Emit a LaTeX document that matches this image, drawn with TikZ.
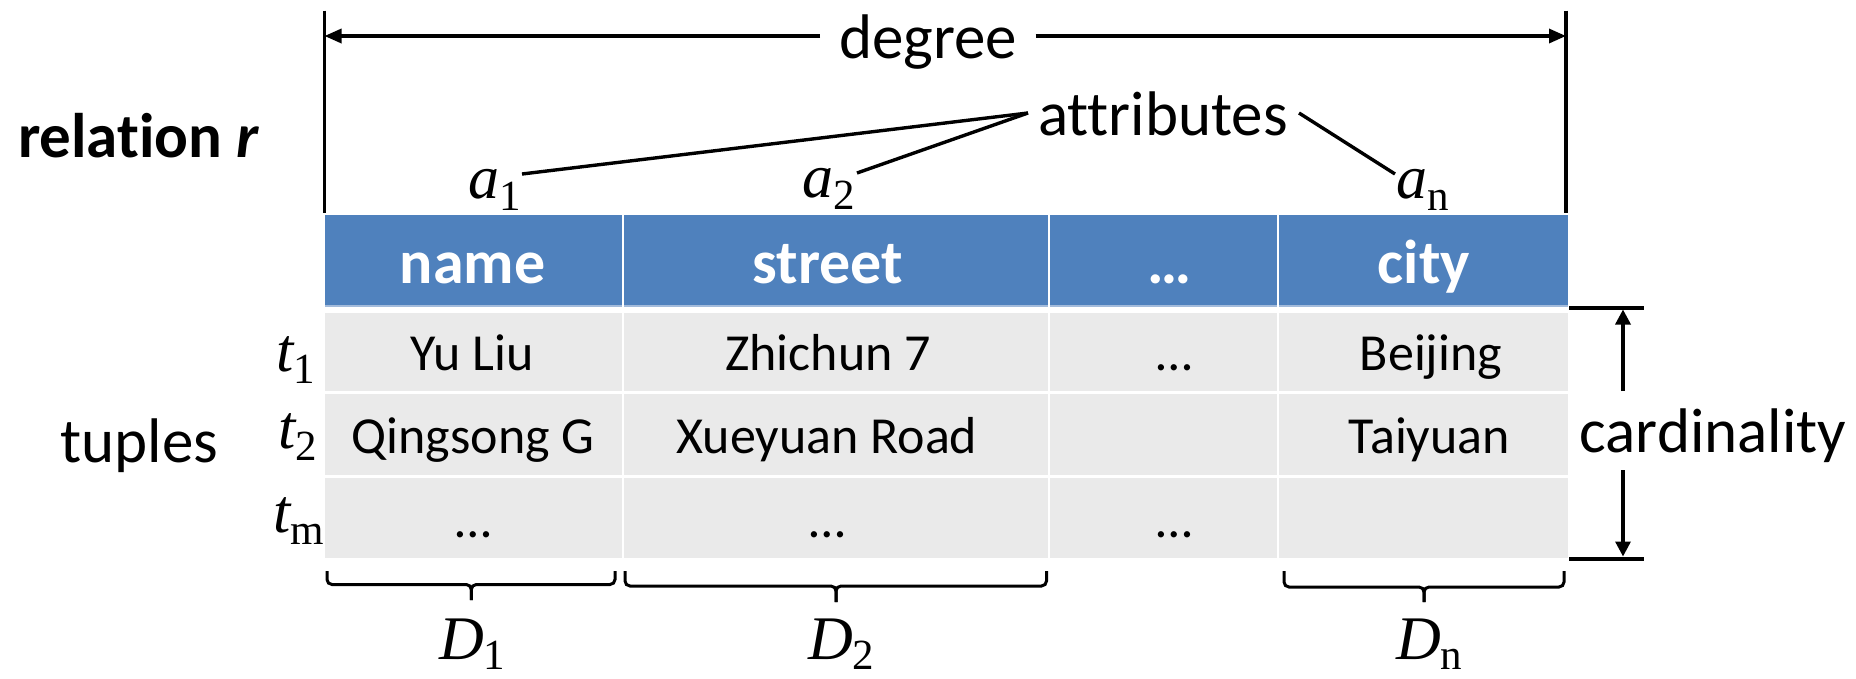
\documentclass[tikz,border=0pt]{standalone}
\usepackage{fontspec}
\setmainfont[Ligatures=CommonOff]{Carlito}
\newfontfamily\tms{Liberation Serif}
\usetikzlibrary{arrows.meta}
\definecolor{hdrblue}{HTML}{4F81BD}
\definecolor{hdrline}{HTML}{A3BBDB}
\definecolor{cellgrey}{HTML}{EAEAEA}
% italic letter with an upright, lowered index (a_1, t_m, D_n ...)
\newcommand{\symsub}[3][12.5pt]{{\tms\fontsize{62}{62}\selectfont\itshape #2}{\tms\fontsize{43}{43}\selectfont\raisebox{-#1}[\height][0pt]{#3}}}
\begin{document}
\begin{tikzpicture}[x=1pt,y=-1pt,
  txt/.style={inner sep=0pt, anchor=base, font=\fontsize{63}{70}\selectfont},
  hdrtxt/.style={inner sep=0pt, anchor=base, text=white, font=\bfseries\fontsize{62}{70}\selectfont},
  celltxt/.style={inner sep=0pt, anchor=base, font=\fontsize{52}{60}\selectfont},
  sym/.style={inner sep=0pt, anchor=base west},
  rule/.style={line width=3.3pt},
  pointer/.style={line width=3.4pt},
  brc/.style={line width=3pt, rounded corners=5pt},
  tick/.style={line width=4pt},
  dimtip/.style={-{Triangle[length=17pt,width=14pt]}},
  cardtip/.style={-{Triangle[length=15pt,width=15pt]}},
]
\useasboundingbox (0,0) rectangle (1856,678);

% ---------- table body ----------
\foreach \xa/\xb in {324.5/621.5, 624/1047.5, 1049.5/1276.5, 1278.5/1568}{
  \fill[hdrblue] (\xa,215) rectangle (\xb,305);
  \fill[hdrline] (\xa,305) rectangle (\xb,306.5);
  \foreach \ya/\yb in {312.5/391, 394/474.5, 477.5/557.5}
    \fill[cellgrey] (\xa,\ya) rectangle (\xb,\yb);
}

% header texts
\node[hdrtxt] (hname)   at (472.5,283) {name};
\node[hdrtxt] (hstreet) at (828,283) {street};
\node[hdrtxt] (hdots)   at (1170,283) {…};
\node[hdrtxt] (hcity)   at (1424,283) {city};

% cell texts
\node[celltxt] (c11) at (472,370) {Yu Liu};
\node[celltxt] (c12) at (828,370) {Zhichun 7};
\node[celltxt] (c13) at (1174,370) {…};
\node[celltxt] (c14) at (1431,370) {Beijing};
\node[celltxt] (c21) at (473,453) {Qingsong G};
\node[celltxt] (c22) at (827,453) {Xueyuan Road};
\node[celltxt] (c24) at (1429.5,453) {Taiyuan};
\node[celltxt] (c31) at (473,537) {…};
\node[celltxt] (c32) at (827,537) {…};
\node[celltxt] (c33) at (1174,537) {…};

% tuple labels
\node[sym] (t1) at (276,371) {\symsub{t}{1}};
\node[sym] (t2) at (278,448) {\symsub{t}{2}};
\node[sym] (tm) at (273,532) {\symsub{t}{m}};

% side labels
\node[txt] (rel) at (138.5,157) {\bfseries relation \itshape r};
\node[txt] (tup) at (139.5,462) {tuples};
\node[txt] (card) at (1713,452) {cardinality};

% ---------- degree ----------
\coordinate (vLt) at (324.5,10.5);
\coordinate (vLb) at (324.5,213);
\coordinate (vRt) at (1566,10.5);
\coordinate (vRb) at (1566,213);
\draw[rule] (vLt) -- (vLb);
\draw[rule] (vRt) -- (vRb);
\node[txt] (deg) at (928,58) {degree};
\coordinate (degL) at (820,36);
\coordinate (degR) at (1035.5,36);
\draw[rule,dimtip] (degL) -- (vLt |- degL);
\draw[rule,dimtip] (degR) -- (vRt |- degR);

% ---------- attributes ----------
\node[txt] (attr) at (1163,135) {attributes};
\node[sym] (a1) at (468,198) {\symsub{a}{1}};
\node[sym] (a2) at (802,197) {\symsub{a}{2}};
\node[sym] (an) at (1396,198) {\symsub{a}{n}};
\coordinate (attrL) at (1028,113);
\coordinate (attrR) at (1299,113);
\coordinate (a1e) at (522,174);
\coordinate (a2e) at (857,173);
\coordinate (ane) at (1395,174);
\draw[pointer] (attrL) -- (a1e);
\draw[pointer] (attrL) -- (a2e);
\draw[pointer] (attrR) -- (ane);

% ---------- cardinality ----------
\coordinate (tkT) at (1569,307.5);
\coordinate (tkB) at (1569,558.5);
\draw[tick] (tkT) -- ++(75,0);
\draw[tick] (tkB) -- ++(75,0);
\coordinate (cTop) at (1623,391);
\coordinate (cBot) at (1623,470);
\draw[rule,cardtip] (cTop) -- ([yshift=-2pt]cTop |- tkT);
\draw[rule,cardtip] (cBot) -- ([yshift=2pt]cBot |- tkB);

% ---------- domain braces ----------
\foreach \xl/\xm/\xr/\h/\b in {327/471.3/615/584.5/600, 625/836/1046.5/586/602, 1284/1424/1564/587/602}{
  \draw[brc] (\xl,571) -- (\xl,\h) -- (\xm,\h) -- (\xm,\b);
  \draw[brc] (\xr,571) -- (\xr,\h) -- (\xm,\h) -- (\xm,\b);
}
\node[sym] (d1) at (439,659) {\symsub[10pt]{D}{1}};
\node[sym] (d2) at (808,659) {\symsub[10pt]{D}{2}};
\node[sym] (dn) at (1396,659) {\symsub[10pt]{D}{n}};
\end{tikzpicture}
\end{document}
